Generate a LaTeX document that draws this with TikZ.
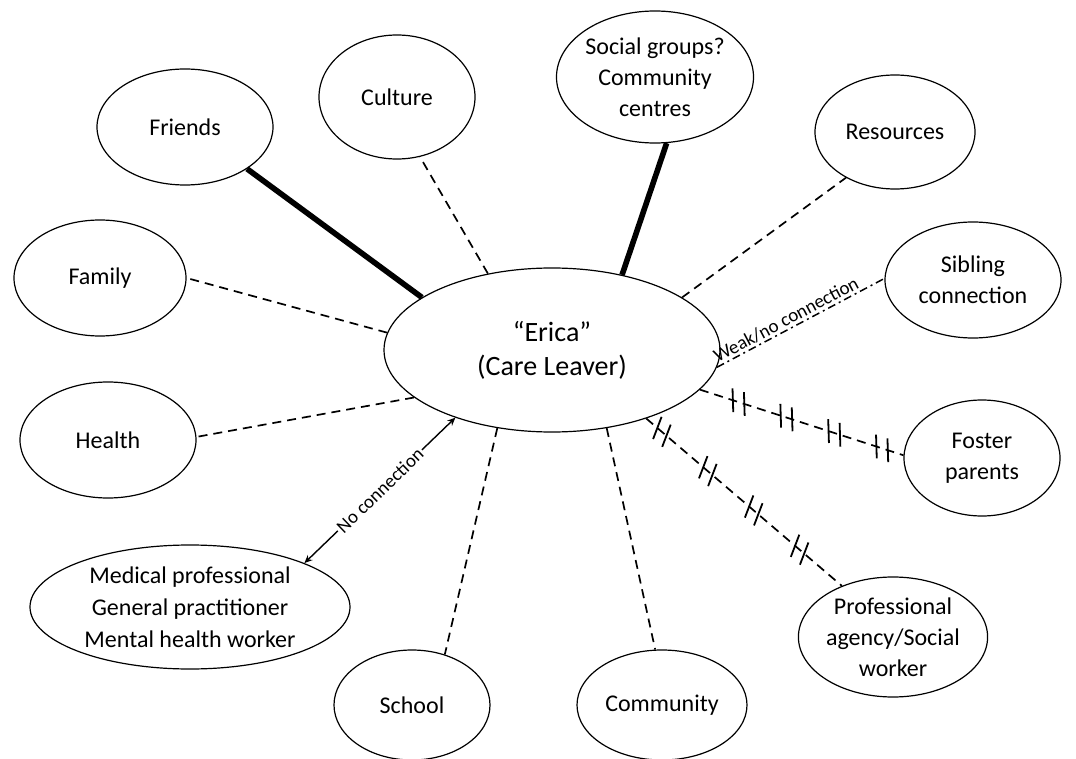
\documentclass[tikz,border=0pt]{standalone}
\usepackage{fontspec}
\setmainfont{Carlito}
\usetikzlibrary{shapes.geometric,arrows.meta,decorations.markings}

\begin{document}
\begin{tikzpicture}[x=0.5pt,y=-0.5pt,
  bubble/.style={ellipse, draw, line width=0.6pt, inner sep=0pt, align=center,
    font=\fontsize{12}{15.5}\selectfont},
  strong/.style={line width=2.8pt},
  weak/.style={line width=0.85pt, dash pattern=on 4.5pt off 3pt},
  faint/.style={line width=0.75pt, dash pattern=on 4pt off 2pt on 1pt off 2pt},
  cut/.style={weak, postaction={decorate}, decoration={markings,
    mark=between positions #1 step 0.235 with {
      \draw[solid, line width=0.9pt] (-1pt,-5.6pt) -- (-5pt,5.6pt);
      \draw[solid, line width=0.9pt] (5pt,-5.6pt) -- (1pt,5.6pt);}}},
  note/.style={font=\fontsize{9.5}{10}\selectfont, inner sep=1pt}]
  \useasboundingbox (0,0) rectangle (1076,759);

  % centre
  \node[bubble, font=\fontsize{14}{17}\selectfont, minimum width=168pt, minimum height=82pt]
    (E) at (552,350) {“Erica”\\(Care Leaver)};

  % around
  \node[bubble, minimum width=88pt, minimum height=58pt] (friends) at (185,127) {Friends};
  \node[bubble, minimum width=78pt, minimum height=62pt] (culture) at (397,97) {Culture};
  \node[bubble, minimum width=86pt, minimum height=66pt] (social) at (655,77)
    {Social groups?\\Community\\centres};
  \node[bubble, minimum width=80pt, minimum height=57pt] (resources) at (895,132) {Resources};
  \node[bubble, minimum width=86pt, minimum height=58pt] (family) at (100,278) {Family};
  \node[bubble, minimum width=88pt, minimum height=58pt] (sibling) at (973,280)
    {Sibling\\connection};
  \node[bubble, minimum width=88pt, minimum height=58pt] (health) at (108,440) {Health};
  \node[bubble, minimum width=78pt, minimum height=58pt] (foster) at (982,458)
    {Foster\\parents};
  \node[bubble, font=\fontsize{12}{16}\selectfont, minimum width=160pt, minimum height=62pt]
    (medical) at (190,607) {Medical professional\\General practitioner\\Mental health worker};
  \node[bubble, minimum width=78pt, minimum height=55pt] (school) at (412,705) {School};
  \node[bubble, minimum width=85pt, minimum height=55pt] (community) at (662,705) {Community};
  \node[bubble, minimum width=93pt, minimum height=60pt] (agency) at (893,637)
    {Professional\\agency/Social\\worker};

  % links
  \draw[strong] (E.158) -- (friends.-34);
  \draw[strong] (E.47) -- (social.-80);
  \draw[weak] (E.130) -- (culture.-69);
  \draw[weak] (E.22) -- (resources.-137);
  \draw[weak] (E.174) -- (family.0);
  \draw[weak] (E.-161) -- (health.2);
  \draw[weak] (E.-55) -- (community.97);
  \draw[weak] (E.-125) -- (school.57);
  \draw[faint] (E.-6) -- node[note, sloped, above, pos=0.44] {Weak/no connection} (sibling.179);
  \draw[cut={0.19 and 0.9}] (E.-15) -- (foster.178);
  \draw[cut={0.08 and 0.85}] (E.-36) -- (agency.135);
  \draw[line width=0.7pt, {Stealth[length=4pt,width=3.5pt]}-{Stealth[length=4pt,width=3.5pt]}]
    (medical.21) -- node[note, sloped, fill=white] {No connection} (E.-145);
\end{tikzpicture}
\end{document}
